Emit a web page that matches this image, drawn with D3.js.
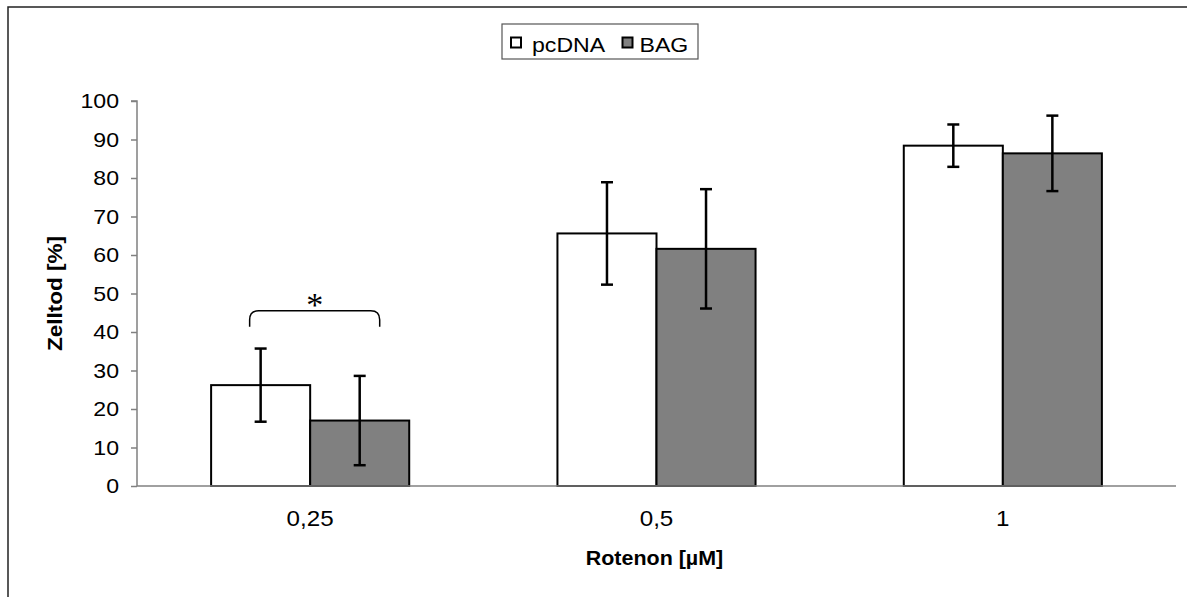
<!DOCTYPE html>
<html>
<head>
<meta charset="utf-8">
<script src="https://cdn.jsdelivr.net/npm/d3@7"></script>
<style>
  body { margin: 0; background: #fff; }
  svg { display: block; font-family: Arial, "Liberation Sans", sans-serif; }
</style>
</head>
<body>
<svg id="chart" width="1187" height="597"></svg>
<script>
// data
const doses = ['0,25', '0,5', '1'];
const series = ['pcDNA', 'BAG'];
const pcDNA = [26.2, 65.6, 88.4];
const pcDNAErr = [9.5, 13.3, 5.5];
const bag = [17.0, 61.6, 86.4];
const bagErr = [11.6, 15.5, 9.8];
const yTicks = [0, 10, 20, 30, 40, 50, 60, 70, 80, 90, 100];
const colors = { pcDNA: '#ffffff', BAG: '#808080' };

const svg = d3.select('#chart');

// outer frame (cut off right/bottom like the picture)
svg.append('rect')
    .attr('x', 8).attr('y', 7)
    .attr('width', 1200).attr('height', 620)
    .attr('fill', 'none').attr('stroke', '#222').attr('stroke-width', 1.5);

const plotL = 137, plotR = 1176, plotT = 101, plotB = 486;

const x0 = d3.scaleBand().domain(doses).range([plotL, plotR]).padding(0);
const x1 = d3.scaleBand().domain(series)
    .range([x0.bandwidth() * 0.214, x0.bandwidth() * 0.786]);
const y = d3.scaleLinear().domain([0, 100]).range([plotB, plotT]);

const rows = doses.map((d, i) => ({
    dose: d,
    vals: [
        { s: 'pcDNA', v: pcDNA[i], e: pcDNAErr[i] },
        { s: 'BAG', v: bag[i], e: bagErr[i] }
    ]
}));

// y axis
const yAxis = svg.append('g')
    .attr('transform', `translate(${plotL},0)`)
    .call(d3.axisLeft(y).tickValues(yTicks).tickSize(6).tickPadding(12));
yAxis.select('.domain').attr('stroke', '#808080').attr('stroke-width', 1.5)
    .attr('d', `M-6,${plotT}H0V${plotB}`);
yAxis.selectAll('.tick line').attr('stroke', '#808080').attr('stroke-width', 1.5);
yAxis.selectAll('.tick text').attr('font-size', 21).attr('fill', '#000');

// bars
const groups = svg.selectAll('.grp').data(rows).enter().append('g')
    .attr('class', 'grp')
    .attr('transform', d => `translate(${x0(d.dose)},0)`);

groups.selectAll('rect').data(d => d.vals).enter().append('rect')
    .attr('x', d => x1(d.s))
    .attr('width', x1.bandwidth())
    .attr('y', d => y(d.v))
    .attr('height', d => y(0) - y(d.v))
    .attr('fill', d => colors[d.s])
    .attr('stroke', '#000').attr('stroke-width', 2);

// x axis
const xAxis = svg.append('g')
    .attr('transform', `translate(0,${plotB})`)
    .call(d3.axisBottom(x0).tickSize(0).tickPadding(24));
xAxis.select('.domain').attr('stroke', '#808080').attr('stroke-width', 1.5)
    .attr('d', `M${plotL},0H${plotR}`);
xAxis.selectAll('.tick text').attr('font-size', 22).attr('fill', '#000');

// error bars
const err = groups.selectAll('.err').data(d => d.vals).enter().append('g')
    .attr('class', 'err')
    .attr('transform', d => `translate(${x1(d.s) + x1.bandwidth() / 2},0)`)
    .attr('stroke', '#000').attr('stroke-width', 2.5);
err.append('line').attr('y1', d => y(d.v + d.e)).attr('y2', d => y(d.v - d.e));
err.append('line').attr('x1', -6).attr('x2', 6)
    .attr('y1', d => y(d.v + d.e)).attr('y2', d => y(d.v + d.e));
err.append('line').attr('x1', -6).attr('x2', 6)
    .attr('y1', d => y(d.v - d.e)).attr('y2', d => y(d.v - d.e));

// significance brace over 0,25
const bx0 = x0('0,25') + x1('pcDNA') + x1.bandwidth() / 2 - 11;
const bx1 = x0('0,25') + x1('BAG') + x1.bandwidth() / 2 + 20;
const by = y(45.5), bh = 16, r = 9;
svg.append('path')
    .attr('d', `M${bx0},${by + bh} V${by + r} Q${bx0},${by} ${bx0 + r},${by} H${bx1 - r} Q${bx1},${by} ${bx1},${by + r} V${by + bh}`)
    .attr('fill', 'none').attr('stroke', '#000').attr('stroke-width', 1.5);
svg.append('text')
    .attr('class', 'nostretch')
    .attr('x', (bx0 + bx1) / 2).attr('y', by + 5)
    .attr('text-anchor', 'middle')
    .attr('font-family', '"Liberation Serif", "Times New Roman", serif')
    .attr('font-size', 34)
    .attr('fill', '#000')
    .text('*');

// axis titles
svg.append('text')
    .attr('x', (plotL + plotR) / 2 - 2).attr('y', 565)
    .attr('text-anchor', 'middle')
    .attr('font-size', 19.5).attr('font-weight', 'bold')
    .text('Rotenon [µM]');
svg.append('text')
    .attr('transform', `translate(62,${(plotT + plotB) / 2}) rotate(-90)`)
    .attr('text-anchor', 'middle')
    .attr('font-size', 20.5).attr('font-weight', 'bold')
    .text('Zelltod [%]');

// legend
const lg = svg.append('g').attr('transform', 'translate(502,24)');
lg.append('rect').attr('width', 196).attr('height', 35)
    .attr('fill', '#fff').attr('stroke', '#555').attr('stroke-width', 1.2);
const items = lg.selectAll('.item').data(series).enter().append('g')
    .attr('class', 'item')
    .attr('transform', (d, i) => `translate(${[8, 119.5][i]},0)`);
items.append('rect').attr('x', 1).attr('y', 13.5).attr('width', 10).attr('height', 10)
    .attr('fill', d => colors[d]).attr('stroke', '#000').attr('stroke-width', 2);
items.append('text').attr('x', d => d === 'pcDNA' ? 22 : 18).attr('y', 27.7)
    .attr('font-size', 21)
    .text(d => d);

// the reference type is a little wider than Liberation Sans
svg.selectAll('text').filter(function () { return !this.classList.contains('nostretch'); })
    .each(function () {
        const w = this.getComputedTextLength();
        d3.select(this).attr('textLength', w * 1.1).attr('lengthAdjust', 'spacingAndGlyphs');
    });
</script>
</body>
</html>
